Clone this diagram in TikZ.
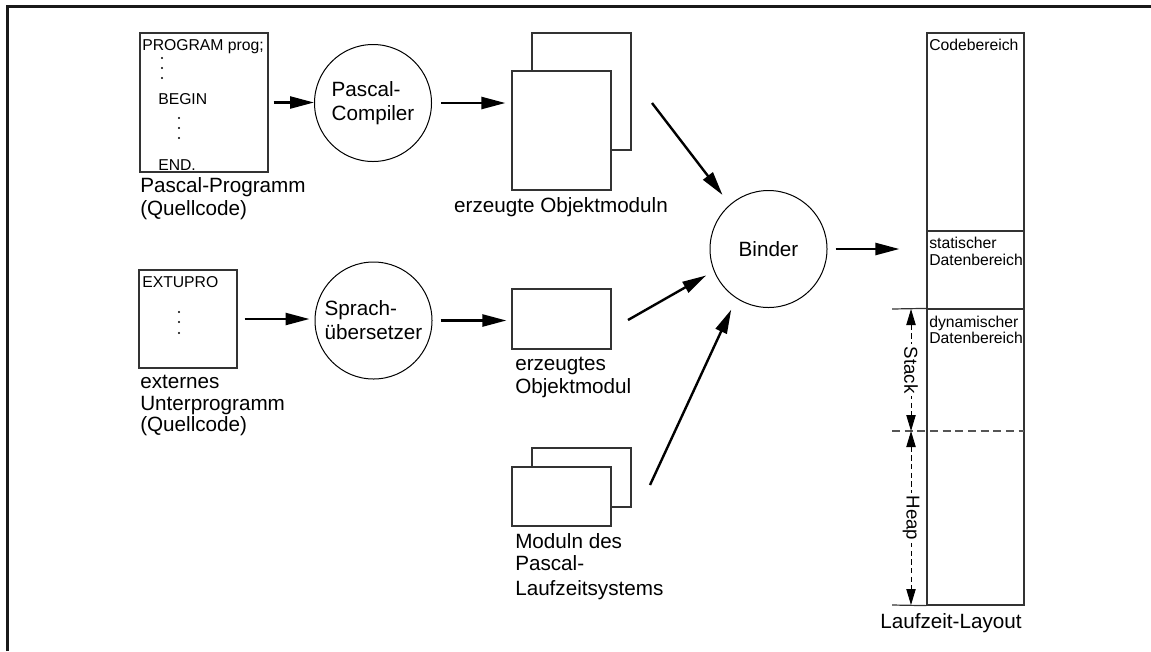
\documentclass[tikz,border=0pt]{standalone}
\usepackage{fontspec}
\setmainfont{Liberation Sans}
\usetikzlibrary{arrows.meta,fit}
\definecolor{boxgray}{HTML}{333333}
\definecolor{dashgray}{HTML}{555555}
\newcommand\lblfont{\fontsize{15.5}{18}\selectfont}
\newcommand\codefont{\fontsize{11.8}{14}\selectfont}
\newcommand\memfont{\fontsize{11.8}{14}\selectfont}
\newcommand\dimfont{\fontsize{14}{16}\selectfont}
\begin{document}
\begin{tikzpicture}[x=0.75pt,y=-0.75pt,
  box/.style={draw=boxgray, line width=0.9pt, fill=white, inner sep=0pt},
  proc/.style={draw, circle, line width=0.75pt, minimum size=87.75pt, inner sep=0pt, font=\lblfont, align=left},
  arr/.style={line width=1.8pt, -{Triangle[length=18pt,width=9pt]}},
  lbl/.style={anchor=base west, inner sep=0pt, font=\lblfont},
  clbl/.style={anchor=base, inner sep=0pt, font=\lblfont},
  code/.style={anchor=base west, inner sep=0pt, font=\codefont},
  memtxt/.style={anchor=base west, inner sep=0pt, font=\memfont},
  memline/.style={draw=boxgray, line width=0.9pt},
  dimline/.style={line width=0.7pt, dash pattern=on 4pt off 2.5pt,
    {Triangle[length=12pt,width=7pt]}-{Triangle[length=12pt,width=7pt]}},
  dimtxt/.style={fill=white, inner sep=2pt, rotate=-90, font=\dimfont}]
\useasboundingbox (0,0) rectangle (1151,651);

% frame
\draw[line width=2.25pt, draw=black!90] (7.5,651) -- (7.5,6.5) -- (1151,6.5);

% source program
\node[box, fit={(140,33)(268,172)}] (prog) {};
\node[code] (p1) at (142,50.5) {PROGRAM prog;};
\node[code] (p2) at (158,104) {BEGIN};
\node[code] (p3) at (158,170) {END.};
\node[lbl] (progl1) at (140,192) {Pascal-Programm};
\node[lbl] (progl2) at (140,215) {(Quellcode)};

% external subroutine
\node[box, fit={(139,270)(237,368)}] (ext) {};
\node[code] (e1) at (142,287) {EXTUPRO};
\node[lbl] (extl1) at (140,388) {externes};
\node[lbl] (extl2) at (140,410) {Unterprogramm};
\node[lbl] (extl3) at (140,431) {(Quellcode)};

% vertical ellipses inside the listings
\foreach \xx/\yy in {162/58,162/68,162/78,179/118,179/128,179/138,179/312,179/322,179/333}
  \fill (\xx,\yy) circle[radius=1.1];

% translators
\node[proc] (comp) at (373,103) {Pascal-\\Compiler};
\node[proc] (sprach) at (373.5,320.5) {Sprach-\\übersetzer};
\node[proc] (binder) at (768.5,249) {Binder};

% object modules
\node[box, fit={(532,33)(631,150)}] (objb) {};
\node[box, fit={(512,71)(611,190)}] (objf) {};
\node[clbl] (objl) at (561,212) {erzeugte Objektmoduln};

\node[box, fit={(512,289)(611,349)}] (obj) {};
\node[lbl] (objl1) at (515,370) {erzeugtes};
\node[lbl] (objl2) at (515,393) {Objektmodul};

\node[box, fit={(532,448)(631,507)}] (rtb) {};
\node[box, fit={(512,467)(611,526)}] (rtf) {};
\node[lbl] (rtl1) at (515,548) {Moduln des};
\node[lbl] (rtl2) at (515,570) {Pascal-};
\node[lbl] (rtl3) at (515,595) {Laufzeitsystems};

% runtime layout
\node[box, fit={(927,33)(1024,231)}] (code) {};
\node[box, fit={(927,231)(1024,309)}] (stat) {};
\node[box, fit={(927,309)(1024,605)}] (dyn) {};
\node[memtxt] (m1) at (929,50) {Codebereich};
\node[memtxt] (m2) at (929,248) {statischer};
\node[memtxt] (m3) at (929,265) {Datenbereich};
\node[memtxt] (m4) at (929,327) {dynamischer};
\node[memtxt] (m5) at (929,343) {Datenbereich};
\coordinate (dtop) at (892,309);
\coordinate (dmid) at (892,431);
\coordinate (dmidr) at (1024,431);
\coordinate (dbot) at (892,605);
\draw[memline] (dtop) -- (dyn.north west);
\draw[memline] (dbot) -- (dyn.south west);
\draw[dashgray, line width=0.8pt, dash pattern=on 6pt off 3.5pt] (dmid) -- (dmidr);
\coordinate (st1) at (911,309);
\coordinate (st2) at (911,431);
\coordinate (st3) at (911,605);
\draw[dimline] (st1) -- (st2) node[midway, dimtxt] (stack) {Stack};
\draw[dimline] (st2) -- (st3) node[midway, dimtxt] (heap) {Heap};
\node[clbl] (layl) at (951,628) {Laufzeit-Layout};

% connectors
\draw[arr, shorten <=3.75pt] (prog.east) -- (prog.east -| comp.west);
\draw[arr, shorten <=5.25pt, shorten >=3.75pt] (ext.east) -- (ext.east -| sprach.west);
\draw[arr, shorten <=6.75pt, shorten >=4.5pt] (comp.east) -- (comp.east -| objf.west);
\draw[arr, shorten <=6pt, shorten >=3.75pt] (sprach.east) -- (sprach.east -| obj.west);
\coordinate (s5) at (652,103);
\coordinate (s6) at (628,320);
\coordinate (s7) at (650,485);
\draw[arr, shorten >=9pt] (s5) -- (binder.131);
\draw[arr, shorten >=6.6pt] (s6) -- (binder.202);
\draw[arr, shorten >=9.2pt] (s7) -- (binder.237);
\draw[arr, shorten <=6pt, shorten >=20.25pt] (binder.east) -- (binder.east -| stat.west);
\end{tikzpicture}
\end{document}
